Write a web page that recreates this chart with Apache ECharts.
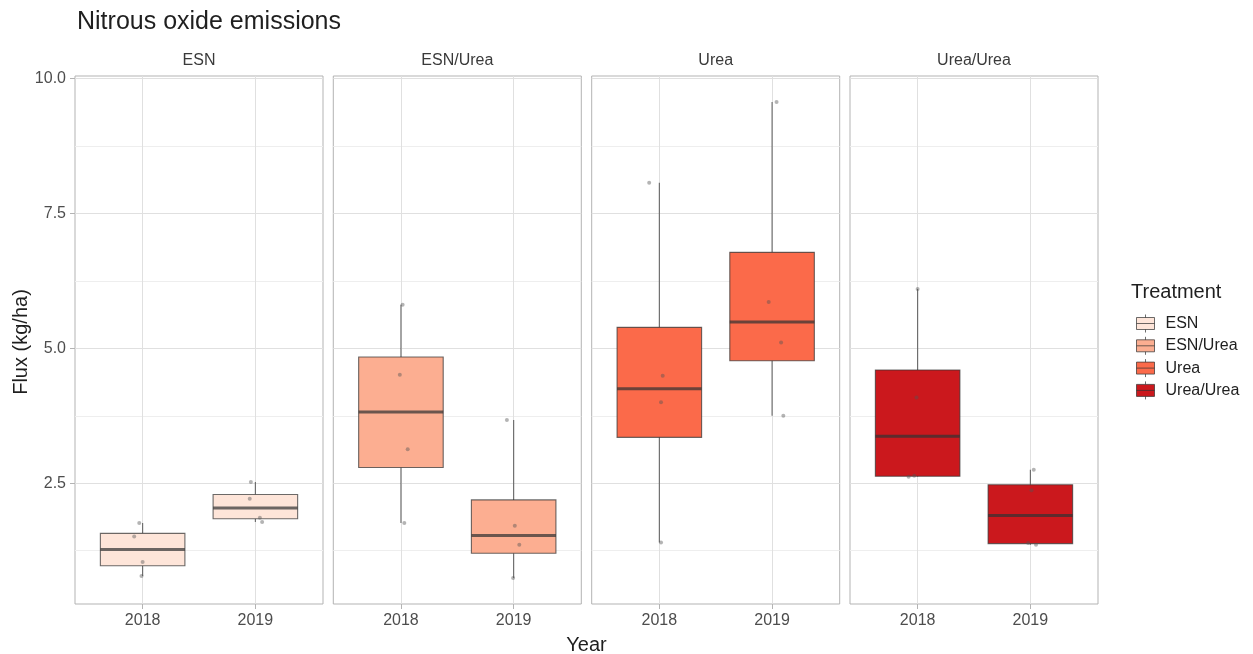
<!DOCTYPE html>
<html>
<head>
<meta charset="utf-8">
<title>Nitrous oxide emissions</title>
<script src="https://cdn.jsdelivr.net/npm/echarts@6/dist/echarts.min.js"></script>
<style>
  html, body { margin: 0; padding: 0; background: #ffffff; }
  #chart { width: 1253px; height: 654px; }
</style>
</head>
<body>
<div id="chart"></div>
<script>
// ---- data -------------------------------------------------------------
const treatments = ['ESN', 'ESN/Urea', 'Urea', 'Urea/Urea'];
const years = ['2018', '2019'];

// Box summaries per year: [min, Q1, median, Q3, max] (kg/ha)
const esnBox      = [[0.78, 0.97, 1.27, 1.57, 1.76], [1.78, 1.84, 2.04, 2.29, 2.52]];
const esnUreaBox  = [[1.76, 2.79, 3.82, 4.84, 5.81], [0.74, 1.20, 1.53, 2.19, 3.67]];
const ureaBox     = [[1.40, 3.35, 4.25, 5.39, 8.07], [3.75, 4.77, 5.49, 6.78, 9.57]];
const ureaUreaBox = [[2.62, 2.63, 3.37, 4.60, 6.10], [1.36, 1.38, 1.90, 2.47, 2.75]];

// Individual plot measurements per year (kg/ha)
const esnPts      = [[1.76, 1.51, 1.04, 0.78], [2.52, 2.21, 1.86, 1.78]];
const esnUreaPts  = [[5.81, 4.51, 3.13, 1.76], [3.67, 1.71, 1.36, 0.74]];
const ureaPts     = [[8.07, 4.49, 4.00, 1.40], [9.57, 5.86, 5.11, 3.75]];
const ureaUreaPts = [[6.10, 4.09, 2.62, 2.64], [2.75, 2.37, 1.36, 1.39]];

// Horizontal jitter of those measurements (in year units)
const esnJit      = [[-0.03, -0.075, 0.00, -0.01], [-0.04, -0.05, 0.04, 0.06]];
const esnUreaJit  = [[0.015, -0.01, 0.06, 0.03], [-0.06, 0.01, 0.05, -0.005]];
const ureaJit     = [[-0.09, 0.03, 0.015, 0.015], [0.04, -0.03, 0.08, 0.10]];
const ureaUreaJit = [[0.00, -0.01, -0.08, -0.03], [0.03, 0.01, 0.05, -0.02]];

const yMajor = [2.5, 5.0, 7.5, 10.0];
const yMinor = [1.25, 3.75, 6.25, 8.75];

// ---- appearance ---------------------------------------------------------
const boxes  = [esnBox, esnUreaBox, ureaBox, ureaUreaBox];
const points = [esnPts, esnUreaPts, ureaPts, ureaUreaPts];
const jitter = [esnJit, esnUreaJit, ureaJit, ureaUreaJit];
const fills  = ['#FEE5D9', '#FCAE91', '#FB6A4A', '#CB181D'];

const FONT = '"Liberation Sans", Arial, Helvetica, sans-serif';
const PANEL_LEFT = [75, 333.3, 591.7, 850];
const PANEL_W = 248, PANEL_TOP = 76, PANEL_H = 528;
const X_MIN = 0.4, X_MAX = 2.6, Y_MIN = 0.26, Y_MAX = 10.05;
const HALF = 0.375;                 // half box width, in year units
const EDGE = 'rgba(51,51,51,0.72)';
const GRID_MAJOR = '#E0E0E0', GRID_MINOR = '#EEEEEE', BORDER = '#B3B3B3';
// legend key: box with median and short whiskers, 18 x 18
const KEY_ICON = 'path://M0,3H18V15H0ZM9,0V3M9,15V18M0,9H18';

function renderBox(params, api) {
  const x = api.value(0);
  const lo = api.value(1), q1 = api.value(2), med = api.value(3), q3 = api.value(4), hi = api.value(5);
  const pLo = api.coord([x, lo]);
  const pHi = api.coord([x, hi]);
  const pQ1 = api.coord([x - HALF, q1]);
  const pQ3 = api.coord([x + HALF, q3]);
  const pMl = api.coord([x - HALF, med]);
  const pMr = api.coord([x + HALF, med]);
  const fill = api.visual('color');
  return {
    type: 'group',
    children: [
      { type: 'line', shape: { x1: pHi[0], y1: pHi[1], x2: pHi[0], y2: pQ3[1] },
        style: { stroke: EDGE, lineWidth: 1.1 } },
      { type: 'line', shape: { x1: pLo[0], y1: pQ1[1], x2: pLo[0], y2: pLo[1] },
        style: { stroke: EDGE, lineWidth: 1.1 } },
      { type: 'rect', shape: { x: pQ1[0], y: pQ3[1], width: pQ3[0] - pQ1[0], height: pQ1[1] - pQ3[1] },
        style: { fill: fill, stroke: EDGE, lineWidth: 1.1 } },
      { type: 'line', shape: { x1: pMl[0], y1: pMl[1], x2: pMr[0], y2: pMr[1] },
        style: { stroke: EDGE, lineWidth: 3 } }
    ]
  };
}

const grids = [], xAxes = [], yAxes = [], series = [];

treatments.forEach(function (name, i) {
  grids.push({
    left: PANEL_LEFT[i], top: PANEL_TOP, width: PANEL_W, height: PANEL_H,
    show: true, borderColor: BORDER, borderWidth: 1, backgroundColor: 'transparent',
    containLabel: false, outerBoundsMode: 'none'
  });

  xAxes.push({
    type: 'value', gridIndex: i, min: X_MIN, max: X_MAX,
    axisLine: { show: false },
    axisTick: { show: true, length: 5, lineStyle: { color: BORDER }, customValues: [1, 2] },
    axisLabel: {
      customValues: [1, 2], margin: 9,
      formatter: function (v) { return years[Math.round(v) - 1]; },
      color: '#4D4D4D', fontSize: 16, fontFamily: FONT
    },
    splitLine: { show: true, lineStyle: { color: GRID_MAJOR, width: 1 } }
  });

  // major breaks (labels on the first panel only)
  yAxes.push({
    type: 'value', gridIndex: i, min: Y_MIN, max: Y_MAX,
    axisLine: { show: false },
    axisTick: { show: i === 0, length: 5, lineStyle: { color: BORDER }, customValues: yMajor },
    axisLabel: {
      show: i === 0, customValues: yMajor, margin: 9,
      formatter: function (v) { return v.toFixed(1); },
      color: '#4D4D4D', fontSize: 16, fontFamily: FONT
    },
    splitLine: { show: true, lineStyle: { color: GRID_MAJOR, width: 1 } }
  });
  // minor breaks
  yAxes.push({
    type: 'value', gridIndex: i, min: Y_MIN, max: Y_MAX, position: 'left',
    axisLine: { show: false },
    axisTick: { show: false, customValues: yMinor },
    axisLabel: { show: false },
    splitLine: { show: true, lineStyle: { color: GRID_MINOR, width: 1 } }
  });

  series.push({
    type: 'custom', name: name, xAxisIndex: i, yAxisIndex: 2 * i,
    itemStyle: { color: fills[i] },
    encode: { x: 0, y: [1, 2, 3, 4, 5] },
    data: boxes[i].map(function (b, j) { return [j + 1].concat(b); }),
    renderItem: renderBox, silent: true, z: 2
  });

  const pts = [];
  points[i].forEach(function (vals, j) {
    vals.forEach(function (v, k) { pts.push([j + 1 + jitter[i][j][k], v]); });
  });
  series.push({
    type: 'scatter', name: name + ' plots', xAxisIndex: i, yAxisIndex: 2 * i,
    data: pts, symbol: 'circle', symbolSize: 4,
    itemStyle: { color: 'rgba(85,85,85,0.55)' }, silent: true, z: 3
  });
});

const texts = [
  { type: 'text', x: 77, y: 22,
    style: { text: 'Nitrous oxide emissions', fontSize: 25, fontFamily: FONT, fill: '#1f1f1f',
             align: 'left', verticalAlign: 'middle' } },
  { type: 'text', x: 586.5, y: 645,
    style: { text: 'Year', fontSize: 20, fontFamily: FONT, fill: '#1f1f1f',
             align: 'center', verticalAlign: 'middle' } },
  { type: 'text', x: 21, y: 342, rotation: Math.PI / 2,
    style: { text: 'Flux (kg/ha)', fontSize: 20, fontFamily: FONT, fill: '#1f1f1f',
             align: 'center', verticalAlign: 'middle' } },
  { type: 'text', x: 1131, y: 292,
    style: { text: 'Treatment', fontSize: 20, fontFamily: FONT, fill: '#1f1f1f',
             align: 'left', verticalAlign: 'middle' } }
];
treatments.forEach(function (name, i) {
  texts.push({ type: 'text', x: PANEL_LEFT[i] + PANEL_W / 2, y: 61,
    style: { text: name, fontSize: 16, fontFamily: FONT, fill: '#3a3a3a',
             align: 'center', verticalAlign: 'middle' } });
});

const chart = echarts.init(document.getElementById('chart'), null, { renderer: 'canvas' });
chart.setOption({
  animation: false,
  backgroundColor: '#ffffff',
  grid: grids,
  xAxis: xAxes,
  yAxis: yAxes,
  series: series,
  legend: {
    orient: 'vertical', left: 1131, top: 309,
    itemWidth: 18, itemHeight: 18, itemGap: 3.3, selectedMode: false,
    itemStyle: { borderColor: 'rgba(51,51,51,0.72)', borderWidth: 1 },
    textStyle: { fontSize: 16, lineHeight: 18, fontFamily: FONT, color: '#1f1f1f', padding: [0, 0, 0, 6] },
    data: treatments.map(function (t, i) {
      return { name: t, icon: KEY_ICON,
               itemStyle: { color: fills[i], borderColor: 'rgba(51,51,51,0.72)', borderWidth: 1 } };
    })
  },
  graphic: texts
});
</script>
</body>
</html>
